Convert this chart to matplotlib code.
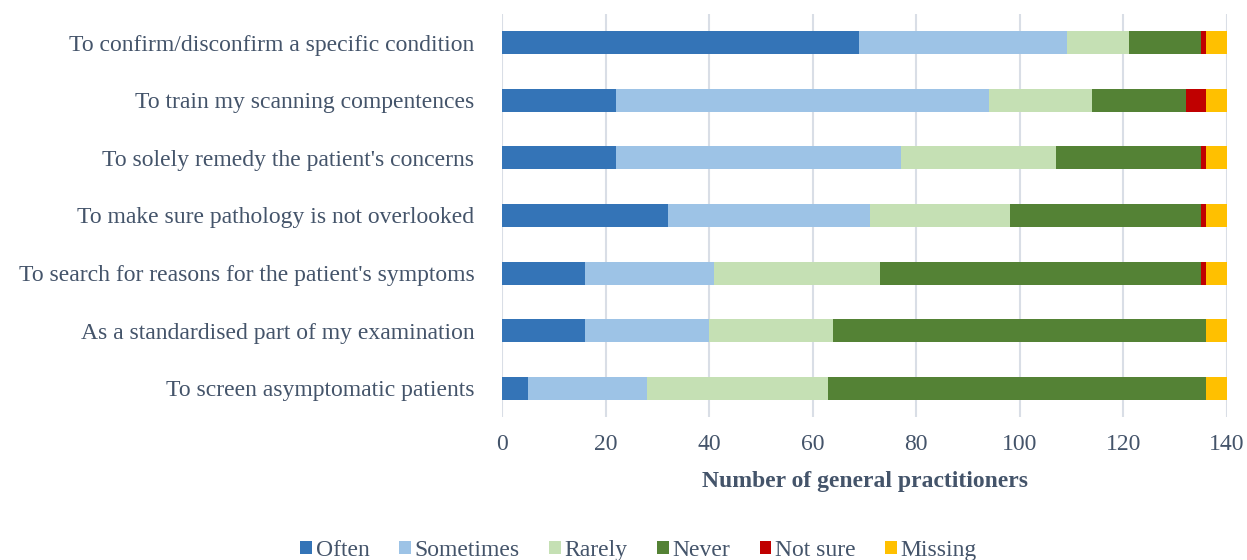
import numpy as np
import matplotlib.pyplot as plt

plt.rcParams['font.family'] = ['Liberation Serif', 'DejaVu Serif']

reasons = [
    "To confirm/disconfirm a specific condition",
    "To train my scanning compentences",
    "To solely remedy the patient's concerns",
    "To make sure pathology is not overlooked",
    "To search for reasons for the patient's symptoms",
    "As a standardised part of my examination",
    "To screen asymptomatic patients",
]
categories = ["Often", "Sometimes", "Rarely", "Never", "Not sure", "Missing"]
often = [69, 22, 22, 32, 16, 16, 5]
sometimes = [40, 72, 55, 39, 25, 24, 23]
rarely = [12, 20, 30, 27, 32, 24, 35]
never = [14, 18, 28, 37, 62, 72, 73]
not_sure = [1, 4, 1, 1, 1, 0, 0]
missing = [4, 4, 4, 4, 4, 4, 4]
colors = ["#3474B7", "#9DC3E6", "#C5E0B4", "#548235", "#C00000", "#FFC000"]

series = [often, sometimes, rarely, never, not_sure, missing]
txt = "#44546A"
fs = 17

fig = plt.figure(figsize=(12.47, 5.6), dpi=100)
ax = fig.add_axes([0.4026, 0.2554, 0.5814, 0.7196])

y = np.arange(len(reasons))
left = np.zeros(len(reasons))
for vals, name, c in zip(series, categories, colors):
    ax.barh(y, vals, left=left, height=0.4, color=c, label=name, zorder=3)
    left += np.array(vals)

ax.set_ylim(6.5, -0.5)
ax.set_xlim(0, 140)
ax.set_xticks(np.arange(0, 141, 20))
ax.set_yticks(y)
ax.set_yticklabels(reasons)
ax.grid(axis='x', color='#D9DEE6', linewidth=1.5, zorder=0)
for s in ax.spines.values():
    s.set_visible(False)
ax.tick_params(length=0, labelsize=fs, colors=txt)
ax.tick_params(axis='x', pad=12)
ax.tick_params(axis='y', pad=20)
ax.set_xlabel("Number of general practitioners", fontsize=fs,
              fontweight='bold', color=txt, labelpad=12)

leg = fig.legend(loc='lower center', bbox_to_anchor=(0.512, -0.04), ncol=6,
                 frameon=False, fontsize=fs, handlelength=0.5,
                 handleheight=0.5, handletextpad=0.15, columnspacing=1.25)
for t in leg.get_texts():
    t.set_color(txt)

fig.savefig("out.png", dpi=100)
